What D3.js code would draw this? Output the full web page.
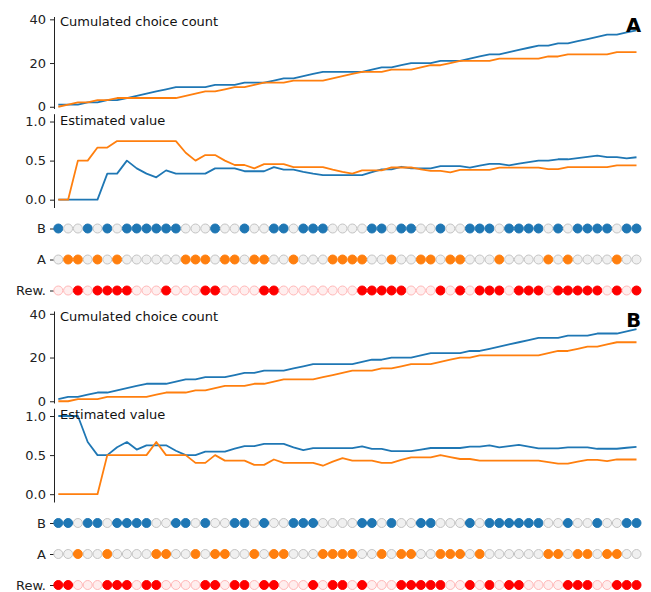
<!DOCTYPE html>
<html>
<head>
<meta charset="utf-8">
<script src="https://cdn.jsdelivr.net/npm/d3@7"></script>
<style>
  html, body { margin: 0; padding: 0; background: #fff; }
  svg { display: block; }
  text { font-family: "DejaVu Sans", sans-serif; }
</style>
</head>
<body>
<svg id="chart" width="651" height="592"></svg>
<script>
// Trial-by-trial record of two sessions (60 trials each)
const trials = d3.range(1, 61);

// Session A: 1 = option B chosen, 0 = option A chosen
const choiceA = [1,0,0,1,0,1,0,1,1,1, 1,1,1,0,0,0,1,0,0,1, 0,0,1,1,0,1,1,1,0,0,
                 0,0,1,1,0,1,1,0,0,1, 0,0,1,1,1,0,1,1,1,1, 0,1,0,1,1,1,1,0,1,1];
const rewardA = [0,0,1,0,1,1,1,1,0,0, 0,1,0,0,0,1,1,0,0,0, 0,1,1,0,0,0,0,0,0,0,
                 0,1,1,1,1,1,0,0,0,1, 0,1,0,1,1,1,0,1,1,1, 0,1,1,1,1,1,0,1,0,1];
const countB_A = [1,1,1,2,2,3,3,4,5,6, 7,8,9,9,9,9,10,10,10,11, 11,11,12,13,13,14,15,16,16,16,
                  16,16,17,18,18,19,20,20,20,21, 21,21,22,23,24,24,25,26,27,28, 28,29,29,30,31,32,33,33,34,35];
const countA_A = [0,1,2,2,3,3,4,4,4,4, 4,4,4,5,6,7,7,8,9,9, 10,11,11,11,12,12,12,12,13,14,
                  15,16,16,16,17,17,17,18,19,19, 20,21,21,21,21,22,22,22,22,22, 23,23,24,24,24,24,24,25,25,25];
const valueB_A = [0,0,0,0,0,0.333,0.333,0.5,0.4,0.333, 0.286,0.375,0.333,0.333,0.333,0.333,0.4,0.4,0.4,0.364,
                  0.364,0.364,0.417,0.385,0.385,0.357,0.333,0.313,0.313,0.313, 0.313,0.313,0.353,0.389,0.389,0.421,0.4,0.4,0.4,0.429,
                  0.429,0.429,0.409,0.435,0.458,0.458,0.44,0.462,0.481,0.5, 0.5,0.517,0.517,0.533,0.548,0.563,0.545,0.545,0.529,0.543];
const valueA_A = [0,0,0.5,0.5,0.667,0.667,0.75,0.75,0.75,0.75, 0.75,0.75,0.75,0.6,0.5,0.571,0.571,0.5,0.444,0.444,
                  0.4,0.455,0.455,0.455,0.417,0.417,0.417,0.417,0.385,0.357, 0.333,0.375,0.375,0.375,0.412,0.412,0.412,0.389,0.368,0.368,
                  0.35,0.381,0.381,0.381,0.381,0.409,0.409,0.409,0.409,0.409, 0.391,0.391,0.417,0.417,0.417,0.417,0.417,0.44,0.44,0.44];

// Session B
const choiceB = [1,1,0,1,1,0,1,1,1,1, 0,0,1,1,0,1,0,0,1,1, 0,1,0,0,1,1,1,0,0,0,
                 0,1,1,0,1,0,0,1,1,0, 0,0,1,0,1,1,1,1,1,1, 0,0,1,0,0,1,0,0,1,1];
const rewardB = [1,1,0,0,0,1,1,1,0,1, 1,0,0,0,0,1,1,0,1,1, 0,1,1,0,0,0,1,0,1,1,
                 0,1,0,0,0,1,1,1,1,1, 0,0,1,0,1,0,1,1,0,0, 0,0,1,1,1,0,0,1,1,1];
const countB_B = [1,2,2,3,4,4,5,6,7,8, 8,8,9,10,10,11,11,11,12,13, 13,14,14,14,15,16,17,17,17,17,
                  17,18,19,19,20,20,20,21,22,22, 22,22,23,23,24,25,26,27,28,29, 29,29,30,30,30,31,31,31,32,33];
const countA_B = [0,0,1,1,1,2,2,2,2,2, 3,4,4,4,5,5,6,7,7,7, 8,8,9,10,10,10,10,11,12,13,
                  14,14,14,15,15,16,17,17,17,18, 19,20,20,21,21,21,21,21,21,21, 22,23,23,24,25,25,26,27,27,27];
const valueB_B = [1,1,1,0.667,0.5,0.5,0.6,0.667,0.571,0.625, 0.625,0.625,0.556,0.5,0.5,0.545,0.545,0.545,0.583,0.615,
                  0.615,0.643,0.643,0.643,0.6,0.563,0.588,0.588,0.588,0.588, 0.588,0.611,0.579,0.579,0.55,0.55,0.55,0.571,0.591,0.591,
                  0.591,0.591,0.609,0.609,0.625,0.6,0.615,0.63,0.607,0.586, 0.586,0.586,0.6,0.6,0.6,0.581,0.581,0.581,0.594,0.606];
const valueA_B = [0,0,0,0,0,0.5,0.5,0.5,0.5,0.5, 0.667,0.5,0.5,0.5,0.4,0.4,0.5,0.429,0.429,0.429,
                  0.375,0.375,0.444,0.4,0.4,0.4,0.4,0.364,0.417,0.462, 0.429,0.429,0.429,0.4,0.4,0.438,0.471,0.471,0.471,0.5,
                  0.474,0.45,0.45,0.429,0.429,0.429,0.429,0.429,0.429,0.429, 0.409,0.391,0.391,0.417,0.44,0.44,0.423,0.444,0.444,0.444];

const rowLabels = ["B", "A", "Rew."];
const countTicks = [0, 20, 40];
const valueTicks = [0, 0.5, 1.0];

const sessions = [
  { letter: "A", top: 0,     choice: choiceA, reward: rewardA, countB: countB_A, countA: countA_A, valueB: valueB_A, valueA: valueA_A },
  { letter: "B", top: 294.5, choice: choiceB, reward: rewardB, countB: countB_B, countA: countA_B, valueB: valueB_B, valueA: valueA_B }
];

const BLUE = "#1f77b4", ORANGE = "#ff7f0e", RED = "#ff0000";
const FONT = 13;
const svg = d3.select("#chart");

const x = d3.scaleLinear().domain([1, 60]).range([58.3, 636.5]);
const yCount = d3.scaleLinear().domain([-0.8, 41.3]).range([108.5, 16.5]);
const yValue = d3.scaleLinear().domain([-0.1, 1.1]).range([207.5, 113.7]);
const yRow = d3.scalePoint().domain(rowLabels).range([228.5, 290.5]);
const axisX = 54;

function styleAxis(g) {
  g.selectAll("text").attr("font-size", FONT).attr("fill", "#222")
    .attr("font-family", "DejaVu Sans, sans-serif");
  g.selectAll("line").attr("stroke", "#222").attr("stroke-width", 1);
  g.select(".domain").attr("stroke", "#222").attr("stroke-width", 1);
}

function drawLines(g, yScale, series) {
  const line = d3.line().x((d, i) => x(trials[i])).y(d => yScale(d));
  series.forEach(([vals, color]) => {
    g.append("path").datum(vals)
      .attr("d", line)
      .attr("fill", "none")
      .attr("stroke", color)
      .attr("stroke-width", 1.8)
      .attr("stroke-linejoin", "round");
  });
}

sessions.forEach(s => {
  const g = svg.append("g").attr("transform", `translate(0,${s.top})`);

  // Cumulated choice count
  const gc = g.append("g");
  gc.append("g").attr("transform", `translate(${axisX},0)`)
    .call(d3.axisLeft(yCount).tickValues(countTicks).tickSize(4).tickSizeOuter(0).tickPadding(4))
    .call(styleAxis);
  drawLines(gc, yCount, [[s.countB, BLUE], [s.countA, ORANGE]]);
  gc.append("text").attr("x", 60).attr("y", 26).attr("font-size", FONT).attr("fill", "#111")
    .text("Cumulated choice count");

  // Estimated value
  const gv = g.append("g");
  gv.append("g").attr("transform", `translate(${axisX},0)`)
    .call(d3.axisLeft(yValue).tickValues(valueTicks).tickFormat(d3.format(".1f")).tickSize(4).tickSizeOuter(0).tickPadding(4))
    .call(styleAxis);
  drawLines(gv, yValue, [[s.valueB, BLUE], [s.valueA, ORANGE]]);
  gv.append("text").attr("x", 60).attr("y", 124.5).attr("font-size", FONT).attr("fill", "#111")
    .text("Estimated value");

  // Choice and reward rows
  const gr = g.append("g");
  gr.append("g").attr("transform", `translate(${axisX},0)`)
    .call(d3.axisLeft(yRow).tickSize(4).tickSizeOuter(0).tickPadding(4))
    .call(styleAxis)
    .call(a => a.select(".domain").remove());

  const rows = [
    { key: "B",    on: i => s.choice[i] === 1, color: BLUE,   offFill: "#f0f0f0", offStroke: "#c4c4c4" },
    { key: "A",    on: i => s.choice[i] === 0, color: ORANGE, offFill: "#f0f0f0", offStroke: "#c4c4c4" },
    { key: "Rew.", on: i => s.reward[i] === 1, color: RED,    offFill: "#ffeeee", offStroke: "#ffb8b8" }
  ];
  rows.forEach(r => {
    gr.append("g").selectAll("circle").data(trials).join("circle")
      .attr("cx", d => x(d))
      .attr("cy", yRow(r.key))
      .attr("r", 4.5)
      .attr("fill", (d, i) => r.on(i) ? r.color : r.offFill)
      .attr("stroke", (d, i) => r.on(i) ? r.color : r.offStroke)
      .attr("stroke-width", 1);
  });

  // Panel letter
  g.append("text").attr("x", 641).attr("y", 32).attr("text-anchor", "end")
    .attr("font-size", 19.5).attr("font-weight", "bold").attr("fill", "#000")
    .text(s.letter);
});
</script>
</body>
</html>
